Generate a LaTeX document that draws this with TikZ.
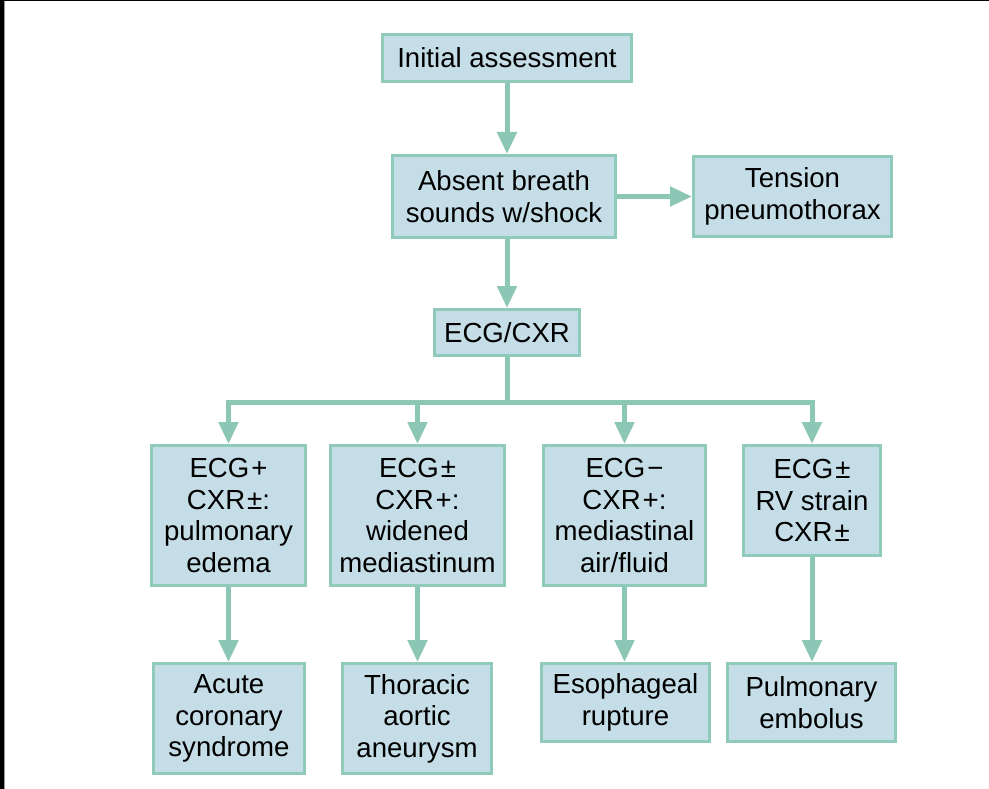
\documentclass[tikz,border=0pt]{standalone}
\usepackage{fontspec}
\setmainfont{Liberation Sans}
\usetikzlibrary{arrows.meta}
\definecolor{boxfill}{HTML}{C5DDE6}
\definecolor{boxline}{HTML}{8FCABA}
\definecolor{arrcol}{HTML}{8CC7B6}
\newcommand{\sgn}[1]{\kern2pt#1}
\begin{document}
\begin{tikzpicture}[x=1pt,y=-1pt,
  box/.style={draw=boxline,fill=boxfill,line width=3pt,inner sep=0pt,align=center,
    font=\fontsize{27.6}{31.5}\selectfont},
  conn/.style={draw=arrcol,line width=5pt,line join=miter},
  arr/.style={conn,-{Triangle[width=19pt,length=22pt]}}]
\useasboundingbox (0,0) rectangle (989,789);
\fill[white] (0,0) rectangle (989,789);
\fill[black] (0,0) rectangle (4,789);
\fill[black!40] (4,0) rectangle (5,789);
\fill[black] (0,0) rectangle (989,1.2);

\node[box,minimum width=249,minimum height=47] (init) at (507,58) {Initial assessment};
\node[box,minimum width=223,minimum height=82] (absent) at (504,196.5) {Absent breath\\sounds w/shock};
\node[box,minimum width=198,minimum height=80] (tension) at (792.5,196.5) {Tension\\pneumothorax};
\node[box,minimum width=145,minimum height=46] (ecg) at (507,332.5) {ECG/CXR};

\node[box,minimum width=154,minimum height=140] (r1) at (228.5,515.5) {ECG\sgn{+}\\CXR\sgn{±}:\\pulmonary\\edema};
\node[box,minimum width=174,minimum height=140] (r2) at (417.5,515.5) {ECG\sgn{±}\\CXR\sgn{+}:\\widened\\mediastinum};
\node[box,minimum width=162,minimum height=140] (r3) at (624.5,515.5) {ECG\sgn{−}\\CXR\sgn{+}:\\mediastinal\\air/fluid};
\node[box,minimum width=137,minimum height=110] (r4) at (812,500.5) {ECG\sgn{±}\\RV strain\\CXR\sgn{±}};

\node[box,minimum width=151,minimum height=110] (d1) at (229,718.5) {Acute\\coronary\\syndrome};
\node[box,minimum width=149,minimum height=110] (d2) at (417,718.5) {Thoracic\\aortic\\aneurysm};
\node[box,minimum width=168,minimum height=78] (d3) at (625.5,702.5) {Esophageal\\rupture};
\node[box,minimum width=168,minimum height=78] (d4) at (811.5,702.5) {Pulmonary\\embolus};

\coordinate (bus) at (507,402);

\draw[arr] (init.south) -- (init.south |- absent.north);
\draw[arr] (absent.east) -- (tension.west);
\draw[arr] (absent.south -| ecg.north) -- (ecg.north);
\draw[conn] (ecg.south) -- (bus);
\draw[arr] (bus) -| (r1.north);
\draw[arr] (bus) -| (r4.north);
\draw[arr] (r2.north |- bus) -- (r2.north);
\draw[arr] (r3.north |- bus) -- (r3.north);

\draw[arr] (r1.south) -- (r1.south |- d1.north);
\draw[arr] (r2.south) -- (r2.south |- d2.north);
\draw[arr] (r3.south) -- (r3.south |- d3.north);
\draw[arr] (r4.south) -- (r4.south |- d4.north);
\end{tikzpicture}
\end{document}
